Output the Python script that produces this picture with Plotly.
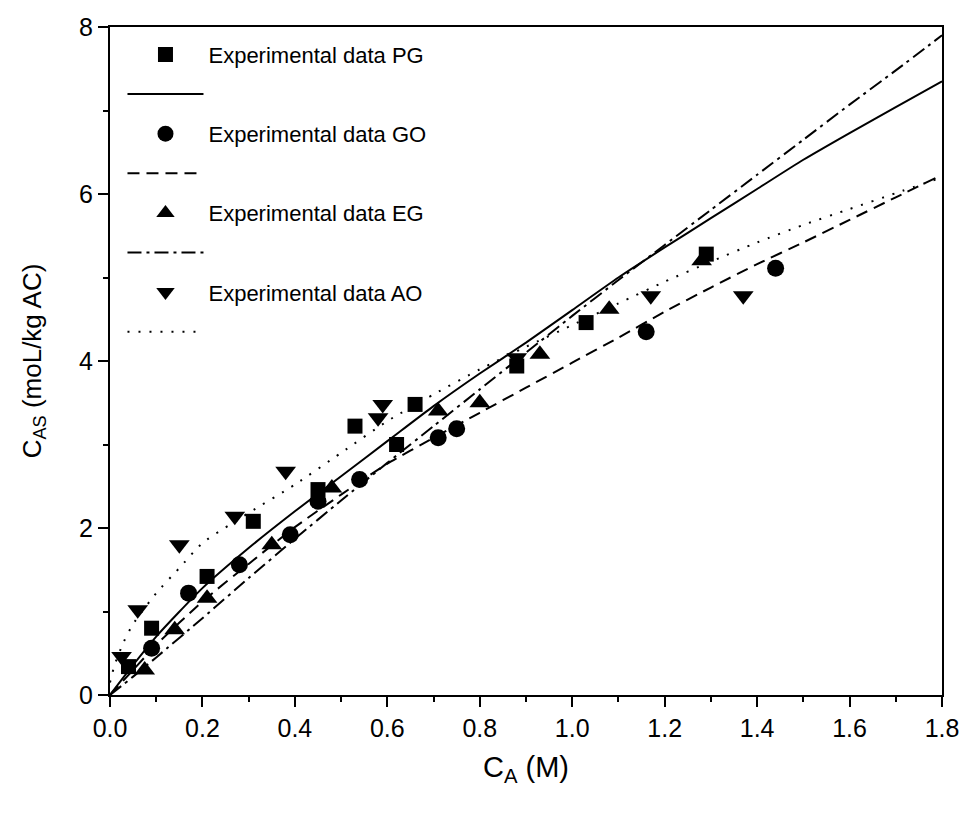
import plotly.graph_objects as go

# Experimental data
pg_x = [0.04, 0.09, 0.21, 0.31, 0.45, 0.53, 0.62, 0.66, 0.88, 1.03, 1.29]
pg_y = [0.34, 0.80, 1.42, 2.08, 2.46, 3.22, 3.00, 3.48, 3.94, 4.46, 5.28]
go_x = [0.09, 0.17, 0.28, 0.39, 0.45, 0.54, 0.71, 0.75, 1.16, 1.44]
go_y = [0.56, 1.22, 1.56, 1.92, 2.32, 2.58, 3.08, 3.19, 4.35, 5.11]
eg_x = [0.075, 0.14, 0.21, 0.35, 0.48, 0.71, 0.80, 0.93, 1.08, 1.28]
eg_y = [0.30, 0.78, 1.16, 1.80, 2.48, 3.40, 3.50, 4.08, 4.62, 5.20]
ao_x = [0.025, 0.06, 0.15, 0.27, 0.38, 0.58, 0.59, 0.88, 1.17, 1.37]
ao_y = [0.46, 1.02, 1.80, 2.14, 2.68, 3.32, 3.48, 4.04, 4.78, 4.78]

# Model curves
fit_x = [0, 0.05, 0.1, 0.2, 0.3, 0.4, 0.5, 0.6, 0.7, 0.8, 0.9, 1.0,
         1.1, 1.2, 1.3, 1.4, 1.5, 1.6, 1.7, 1.8]
pg_fit = [0, 0.36, 0.70, 1.28, 1.76, 2.20, 2.62, 3.04, 3.46, 3.85, 4.22, 4.61,
          5.00, 5.36, 5.71, 6.06, 6.41, 6.73, 7.04, 7.35]
go_fit = [0, 0.30, 0.60, 1.12, 1.57, 2.01, 2.40, 2.77, 3.08, 3.38, 3.68, 3.98,
          4.28, 4.59, 4.88, 5.16, 5.42, 5.69, 5.96, 6.23]
eg_fit = [0, 0.22, 0.45, 0.92, 1.40, 1.87, 2.33, 2.78, 3.22, 3.66, 4.10, 4.54,
          4.97, 5.39, 5.81, 6.23, 6.65, 7.07, 7.48, 7.90]
ao_fit_x = [0, 0.01, 0.03, 0.05, 0.1, 0.15, 0.2, 0.3, 0.4, 0.5, 0.6, 0.7, 0.8,
            0.9, 1.0, 1.1, 1.2, 1.3, 1.4, 1.5, 1.6, 1.7, 1.8]
ao_fit = [0.15, 0.36, 0.64, 0.85, 1.22, 1.52, 1.82, 2.18, 2.52, 2.90, 3.28, 3.60,
          3.90, 4.17, 4.43, 4.69, 4.95, 5.19, 5.42, 5.63, 5.82, 6.01, 6.20]

series = [
    ("Experimental data PG", pg_x, pg_y, "square", 15, fit_x, pg_fit, "solid"),
    ("Experimental data GO", go_x, go_y, "circle", 17, fit_x, go_fit, "12px,7px"),
    ("Experimental data EG", eg_x, eg_y, "triangle-up", 18, fit_x, eg_fit, "14px,5px,3px,5px"),
    ("Experimental data AO", ao_x, ao_y, "triangle-down", 18, ao_fit_x, ao_fit, "2px,9px"),
]

fig = go.Figure()
for i, (name, x, y, sym, sz, fx, fy, dash) in enumerate(series):
    fig.add_trace(go.Scatter(
        x=x, y=y, mode="markers", name=name, legendgroup=f"g{2*i}",
        marker=dict(symbol=sym, size=sz, color="black", line=dict(width=0)),
    ))
    fig.add_trace(go.Scatter(
        x=fx, y=fy, mode="lines", name=" ", legendgroup=f"g{2*i+1}",
        line=dict(color="black", width=2, dash=dash, shape="spline", smoothing=0.6),
    ))

tickfont = dict(family="Liberation Sans, Arial", size=25, color="black")
fig.update_layout(
    width=955, height=797,
    margin=dict(l=102, r=21, t=19, b=110),
    paper_bgcolor="white", plot_bgcolor="white",
    showlegend=True,
    legend=dict(
        x=0.015, y=0.99, xanchor="left", yanchor="top",
        font=dict(family="Liberation Sans, Arial", size=22, color="black"),
        bgcolor="rgba(0,0,0,0)", itemwidth=76, tracegroupgap=8,
        itemclick=False,
    ),
    xaxis=dict(
        range=[0, 1.8], tickvals=[0, 0.2, 0.4, 0.6, 0.8, 1.0, 1.2, 1.4, 1.6, 1.8],
        tickformat=".1f", ticks="outside", ticklen=10, tickwidth=2, tickcolor="black",
        minor=dict(dtick=0.1, ticks="outside", ticklen=5, tickwidth=2, tickcolor="black"),
        showline=True, linewidth=2, linecolor="black", mirror=True,
        showgrid=False, zeroline=False, tickfont=tickfont, automargin=False,
        title=dict(text="C<sub>A</sub> (M)", standoff=16,
                   font=dict(family="Liberation Sans, Arial", size=29, color="black")),
    ),
    yaxis=dict(
        range=[0, 8], tickvals=[0, 2, 4, 6, 8],
        ticks="outside", ticklen=10, tickwidth=2, tickcolor="black",
        minor=dict(dtick=1, ticks="outside", ticklen=5, tickwidth=2, tickcolor="black"),
        showline=True, linewidth=2, linecolor="black", mirror=True,
        showgrid=False, zeroline=False, tickfont=tickfont, automargin=False,
        title=dict(text="C<sub>AS</sub> (moL/kg AC)", standoff=30,
                   font=dict(family="Liberation Sans, Arial", size=26, color="black")),
    ),
)

fig.write_html("out.html")
